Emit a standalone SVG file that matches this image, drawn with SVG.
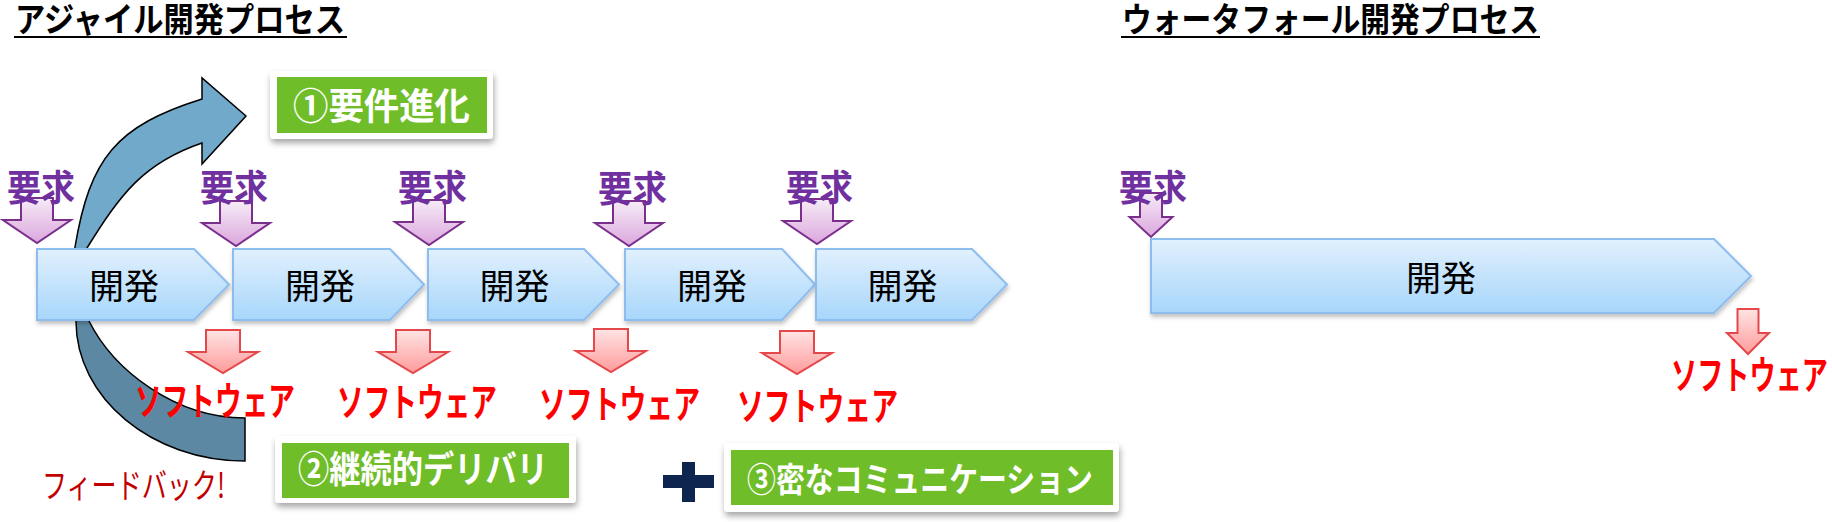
<svg xmlns="http://www.w3.org/2000/svg" width="1832" height="522" viewBox="0 0 1832 522">
<defs>
<linearGradient id="gBox" x1="0" y1="0" x2="0" y2="1"><stop offset="0" stop-color="#E1F0FD"/><stop offset="1" stop-color="#A7D6FB"/></linearGradient>
<linearGradient id="gPur" x1="0" y1="0" x2="0" y2="1"><stop offset="0" stop-color="#F6ECF7"/><stop offset="1" stop-color="#DBA6DD"/></linearGradient>
<linearGradient id="gRed" x1="0" y1="0" x2="0" y2="1"><stop offset="0" stop-color="#FFE4E4"/><stop offset="1" stop-color="#FF9B9B"/></linearGradient>
<linearGradient id="gCurve" gradientUnits="userSpaceOnUse" x1="0" y1="240" x2="0" y2="330"><stop offset="0" stop-color="#71A9CB"/><stop offset="1" stop-color="#5C88A3"/></linearGradient>
<filter id="shBox" x="-10%" y="-20%" width="120%" height="150%"><feDropShadow dx="1" dy="3" stdDeviation="2" flood-color="#000" flood-opacity="0.25"/></filter>
<filter id="shLbl" x="-10%" y="-20%" width="120%" height="160%"><feDropShadow dx="1" dy="4" stdDeviation="3" flood-color="#000" flood-opacity="0.35"/></filter>
<path id="aPur" d="M-16,-45 L16,-45 L16,-23 L34,-23 L0,0 L-34,-23 L-16,-23 Z"/>
<path id="aPurS" d="M-11,-44 L11,-44 L11,-20 L21.5,-20 L0,0 L-21.5,-20 L-11,-20 Z"/>
<path id="aRed" d="M-17,-43 L17,-43 L17,-21 L35,-21 L0,0 L-35,-21 L-17,-21 Z"/>
<path id="aRedS" d="M-10.5,-45 L10.5,-45 L10.5,-21 L21,-21 L0,0 L-21,-21 L-10.5,-21 Z"/>
</defs>
<style>
text{font-family:"Noto Sans CJK JP","Noto Sans",sans-serif}
.title{font-size:34px;font-weight:700;fill:#000}
.req{font-size:36px;font-weight:700;fill:#7030A0}
.dev{font-size:35px;fill:#000;text-anchor:middle}
.sw{font-size:26.5px;font-weight:700;fill:#FF0000}
.lbl{font-weight:700;fill:#FFFFFF}
.box{fill:url(#gBox);stroke:#8DBDEF;stroke-width:2;filter:url(#shBox)}
.pur{fill:url(#gPur);stroke:#7B2F8C;stroke-width:2}
.red{fill:url(#gRed);stroke:#E5484B;stroke-width:2}
.wht{fill:#FFFFFF;filter:url(#shLbl)}
.grn{fill:#6FBD28}
</style>

<g id="connectors">
<path id="curved-arrow" d="M245,461 C152,461 76,398 76,321 C76,295 73,270 75,247 C90,158 116,126 202,99 L202,78 L246,116 L202,164 L202,143 C143,163 120,195 87,248 C79,261 80,303 89,321 C113.6,370 175,418 245,418 Z" fill="url(#gCurve)" stroke="#000" stroke-width="1.5" stroke-linejoin="miter"/>
<use href="#aPur" class="pur" x="37" y="243"/>
<use href="#aPur" class="pur" x="236" y="246"/>
<use href="#aPur" class="pur" x="429" y="245"/>
<use href="#aPur" class="pur" x="629" y="246"/>
<use href="#aPur" class="pur" x="817" y="244"/>
<use href="#aPurS" class="pur" x="1151" y="237"/>
<use href="#aRed" class="red" x="223" y="373"/>
<use href="#aRed" class="red" x="413" y="373"/>
<use href="#aRed" class="red" x="611" y="372"/>
<use href="#aRed" class="red" x="797" y="374"/>
<use href="#aRedS" class="red" x="1748" y="354"/>
</g>

<g id="title-agile">
<text class="title" x="15" y="32" textLength="330" lengthAdjust="spacingAndGlyphs">アジャイル開発プロセス</text>
<line x1="14" y1="37" x2="347" y2="37" stroke="#000" stroke-width="2"/>
</g>
<g id="title-waterfall">
<text class="title" x="1122" y="32" textLength="417" lengthAdjust="spacingAndGlyphs">ウォータフォール開発プロセス</text>
<line x1="1121" y1="37" x2="1540" y2="37" stroke="#000" stroke-width="2"/>
</g>

<g id="req1"><text class="req" x="7" y="201" textLength="68" lengthAdjust="spacingAndGlyphs">要求</text></g>
<g id="req2"><text class="req" x="200" y="201" textLength="68" lengthAdjust="spacingAndGlyphs">要求</text></g>
<g id="req3"><text class="req" x="398" y="201" textLength="69" lengthAdjust="spacingAndGlyphs">要求</text></g>
<g id="req4"><text class="req" x="598" y="202" textLength="69" lengthAdjust="spacingAndGlyphs">要求</text></g>
<g id="req5"><text class="req" x="786" y="201" textLength="67" lengthAdjust="spacingAndGlyphs">要求</text></g>
<g id="req-w"><text class="req" x="1119" y="201" textLength="68" lengthAdjust="spacingAndGlyphs">要求</text></g>

<g id="dev1"><path class="box" d="M37,249 L194,249 L229,284.5 L194,320 L37,320 Z"/><text class="dev" x="124" y="299">開発</text></g>
<g id="dev2"><path class="box" d="M233,249 L390,249 L424,284.5 L390,320 L233,320 Z"/><text class="dev" x="320" y="299">開発</text></g>
<g id="dev3"><path class="box" d="M428,249 L584,249 L619,284.5 L584,320 L428,320 Z"/><text class="dev" x="514.5" y="299">開発</text></g>
<g id="dev4"><path class="box" d="M625,249 L782,249 L815,284.5 L782,320 L625,320 Z"/><text class="dev" x="712" y="299">開発</text></g>
<g id="dev5"><path class="box" d="M816,249 L972,249 L1007,284.5 L972,320 L816,320 Z"/><text class="dev" x="902.5" y="299">開発</text></g>
<g id="dev-w"><path class="box" d="M1151,239 L1714,239 L1751,276 L1714,313 L1151,313 Z"/><text class="dev" x="1441" y="291">開発</text></g>

<g id="sw1"><text class="sw" transform="translate(135,415) scale(1,1.45)" textLength="160" lengthAdjust="spacingAndGlyphs">ソフトウェア</text></g>
<g id="sw2"><text class="sw" transform="translate(337,416) scale(1,1.45)" textLength="160" lengthAdjust="spacingAndGlyphs">ソフトウェア</text></g>
<g id="sw3"><text class="sw" transform="translate(539,418) scale(1,1.45)" textLength="161" lengthAdjust="spacingAndGlyphs">ソフトウェア</text></g>
<g id="sw4"><text class="sw" transform="translate(737,420) scale(1,1.45)" textLength="161" lengthAdjust="spacingAndGlyphs">ソフトウェア</text></g>
<g id="sw-w"><text class="sw" transform="translate(1671,389) scale(1,1.45)" textLength="157" lengthAdjust="spacingAndGlyphs">ソフトウェア</text></g>

<g id="label1">
<rect class="wht" x="270" y="71" width="223" height="68" rx="4"/>
<rect class="grn" x="277" y="77" width="210" height="56"/>
<text class="lbl" x="293" y="120" font-size="37" textLength="177" lengthAdjust="spacingAndGlyphs">①要件進化</text>
</g>
<g id="label2">
<rect class="wht" x="275" y="436" width="301" height="67" rx="4"/>
<rect class="grn" x="282" y="443" width="287" height="55"/>
<text class="lbl" x="298" y="483" font-size="37" textLength="250" lengthAdjust="spacingAndGlyphs">②継続的デリバリ</text>
</g>
<g id="plus">
<rect x="663" y="475" width="51" height="13" fill="#0E2550"/>
<rect x="682" y="462" width="13" height="40" fill="#0E2550"/>
</g>
<g id="label3">
<rect class="wht" x="724" y="443" width="395" height="69" rx="4"/>
<rect class="grn" x="731" y="450" width="382" height="55"/>
<text class="lbl" x="747" y="492" font-size="34" textLength="346" lengthAdjust="spacingAndGlyphs">③密なコミュニケーション</text>
</g>
<g id="feedback">
<text x="42" y="498" font-size="34" fill="#C00000" textLength="183" lengthAdjust="spacingAndGlyphs">フィードバック!</text>
</g>
</svg>
